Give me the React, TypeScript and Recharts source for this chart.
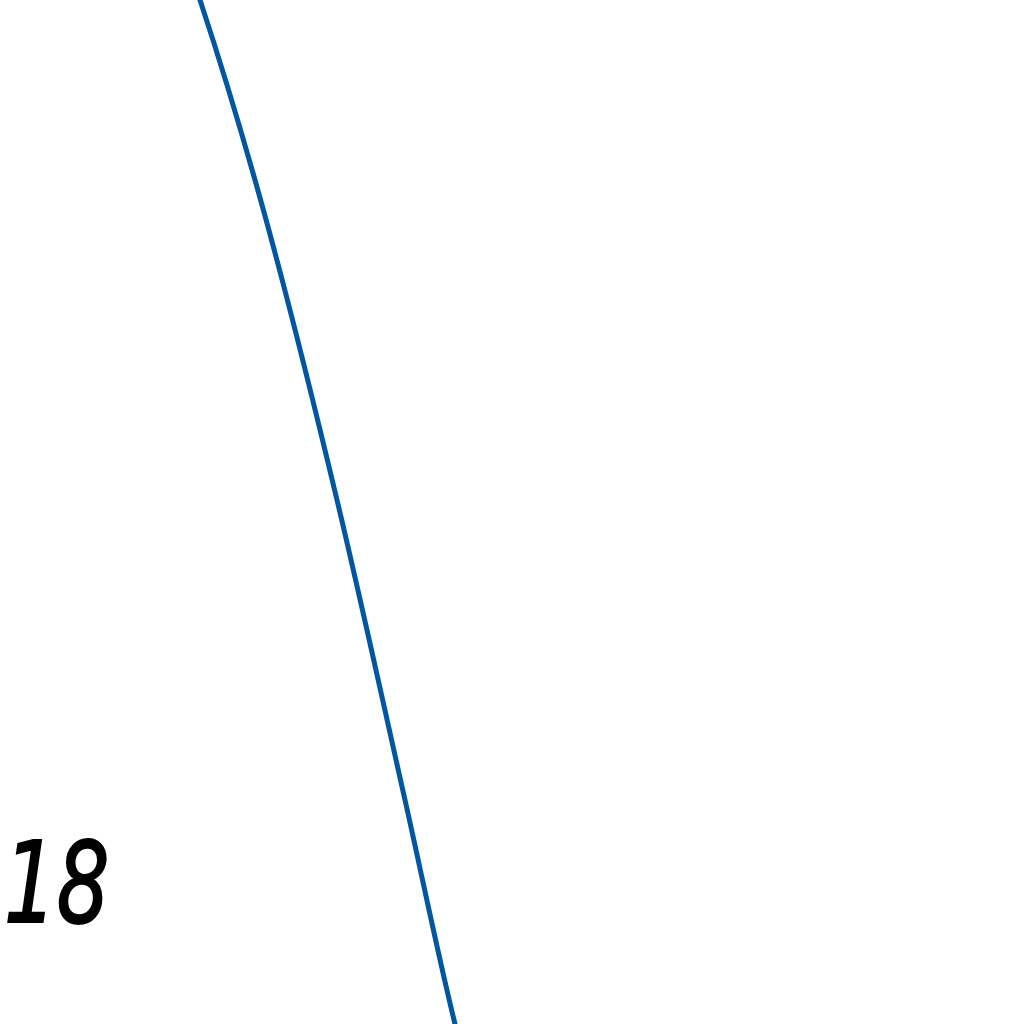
import { LineChart, Line, XAxis, YAxis, ReferenceDot } from "recharts";

const xs = [195, 200, 255, 337, 405, 455, 459];
const ys = [1039, 1024, 844, 524, 224, 0, -16];
const tickLabel = "18";
const tickX = 4;
const tickY = 102;

const data = xs.map((x, i) => ({ x, y: ys[i] }));

const TickText = (props: any) => {
  const { viewBox } = props;
  return (
    <text
      transform={`translate(${viewBox.x},${viewBox.y}) scale(0.74,1)`}
      fontFamily="DejaVu Sans"
      fontStyle="italic"
      fontSize={112}
      fill="#000"
      stroke="#000"
      strokeWidth={2}
      textAnchor="start"
    >
      {tickLabel}
    </text>
  );
};

export default function App() {
  return (
    <div style={{ position: "fixed", top: 0, left: 0, width: 1024, height: 1024, background: "#fff" }}>
      <LineChart width={1024} height={1024} data={data} margin={{ top: 0, right: 0, bottom: 0, left: 0 }}>
        <XAxis dataKey="x" type="number" domain={[0, 1024]} allowDataOverflow hide />
        <YAxis type="number" domain={[0, 1024]} allowDataOverflow hide />
        <Line
          type="monotone"
          dataKey="y"
          stroke="#0056a0"
          strokeWidth={5}
          dot={false}
          isAnimationActive={false}
        />
        <ReferenceDot x={tickX} y={tickY} r={0} ifOverflow="visible" label={<TickText />} />
      </LineChart>
    </div>
  );
}
